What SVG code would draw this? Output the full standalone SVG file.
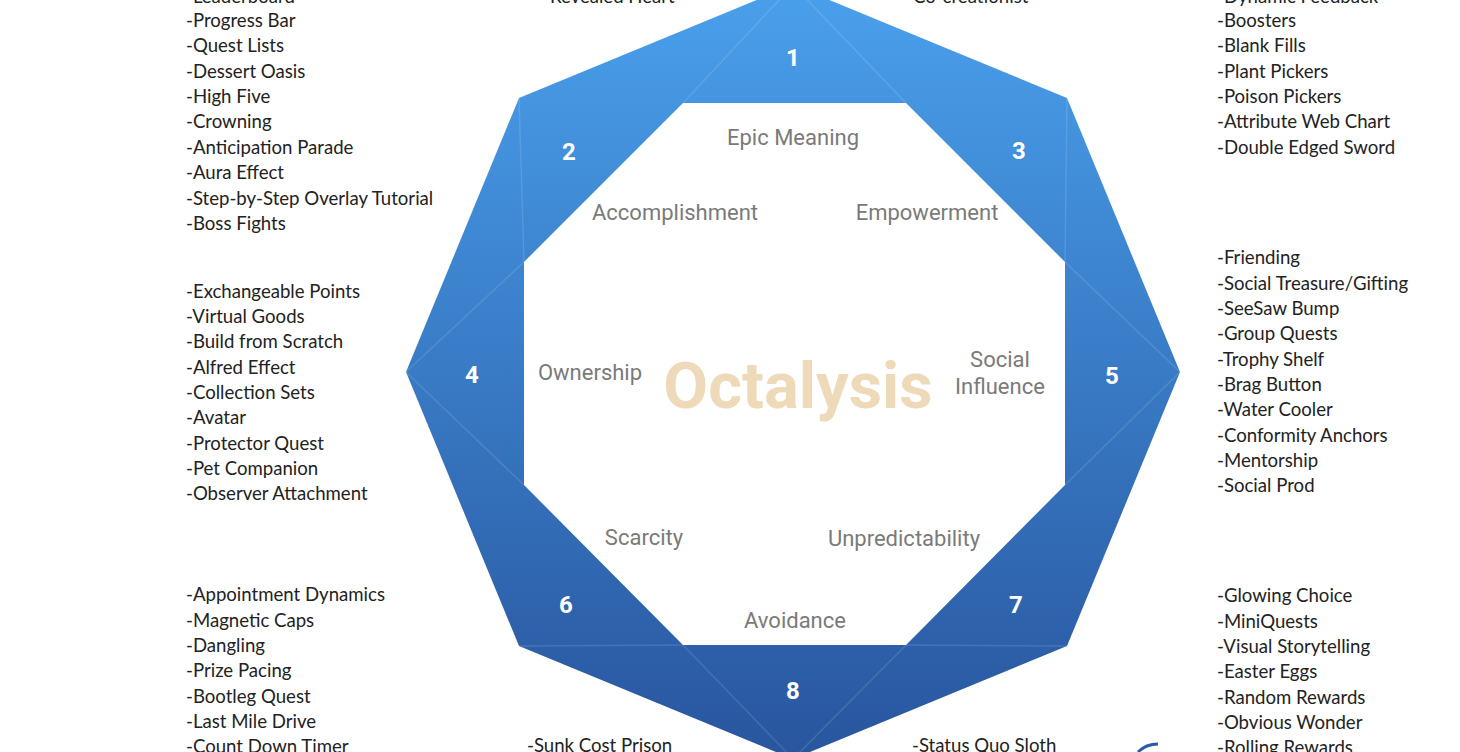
<svg xmlns="http://www.w3.org/2000/svg" width="1460" height="752" viewBox="0 0 1460 752">
<style>
.t{font-family:Lato,"Liberation Sans",sans-serif;font-size:18.6px;fill:#222}
.n{font-family:Roboto,"Liberation Sans",sans-serif;font-size:24px;font-weight:bold;fill:#fff;text-anchor:middle}
.c{font-family:Roboto,"Liberation Sans",sans-serif;font-size:22px;fill:#7a7a7a;text-anchor:middle}
</style>
<defs>
<linearGradient id="g" x1="0" y1="0" x2="0" y2="1">
<stop offset="0" stop-color="#4aa0ec"/><stop offset="1" stop-color="#28559e"/>
</linearGradient>
</defs>
<rect width="1460" height="752" fill="#fff"/>
<g id="octagon">
<polygon points="793,-15 1067,98 1180,372 1067,646 793,759 519,646 406,372 519,98" fill="url(#g)"/>
<g stroke="#ffffff" stroke-opacity="0.12" stroke-width="1.5">
<line x1="793" y1="-15" x2="683" y2="103"/><line x1="793" y1="-15" x2="906" y2="103"/>
<line x1="1067" y1="98" x2="1065" y2="262"/><line x1="519" y1="98" x2="524" y2="262"/>
<line x1="1180" y1="372" x2="1065" y2="262"/><line x1="1180" y1="372" x2="1065" y2="485"/>
<line x1="406" y1="372" x2="524" y2="262"/><line x1="406" y1="372" x2="524" y2="485"/>
<line x1="1067" y1="646" x2="906" y2="645"/><line x1="519" y1="646" x2="683" y2="645"/>
<line x1="793" y1="759" x2="683" y2="645"/><line x1="793" y1="759" x2="906" y2="645"/>
</g>
<polygon points="683,103 906,103 1065,262 1065,485 906,645 683,645 524,485 524,262" fill="#fff"/>
</g>
<g id="numbers">
<text class="n" x="793" y="66">1</text><text class="n" x="569" y="160">2</text>
<text class="n" x="1019" y="159">3</text><text class="n" x="472" y="383">4</text>
<text class="n" x="1112" y="384">5</text><text class="n" x="566" y="613">6</text>
<text class="n" x="1016" y="613">7</text><text class="n" x="793" y="699">8</text>
</g>
<g id="core-drives">
<text class="c" x="793" y="145">Epic Meaning</text>
<text class="c" x="675" y="220">Accomplishment</text>
<text class="c" x="927" y="220">Empowerment</text>
<text class="c" x="590" y="380">Ownership</text>
<text class="c" x="1000" y="367">Social</text><text class="c" x="1000" y="394">Influence</text>
<text class="c" x="644" y="545">Scarcity</text>
<text class="c" x="904" y="546">Unpredictability</text>
<text class="c" x="795" y="628">Avoidance</text>
<text x="798" y="408" text-anchor="middle" font-family="Roboto,'Liberation Sans',sans-serif" font-size="65" font-weight="bold" fill="#eed9b8">Octalysis</text>
</g>
<g id="list-2" class="t">
<text x="186" y="3">-Leaderboard</text><text x="186" y="27">-Progress Bar</text><text x="186" y="52">-Quest Lists</text>
<text x="186" y="78">-Dessert Oasis</text><text x="186" y="103">-High Five</text><text x="186" y="128">-Crowning</text>
<text x="186" y="154">-Anticipation Parade</text><text x="186" y="179">-Aura Effect</text>
<text x="186" y="205">-Step-by-Step Overlay Tutorial</text><text x="186" y="230">-Boss Fights</text>
</g>
<g id="list-4" class="t">
<text x="186" y="298">-Exchangeable Points</text><text x="186" y="323">-Virtual Goods</text><text x="186" y="348">-Build from Scratch</text>
<text x="186" y="374">-Alfred Effect</text><text x="186" y="399">-Collection Sets</text><text x="186" y="424">-Avatar</text>
<text x="186" y="450">-Protector Quest</text><text x="186" y="475">-Pet Companion</text><text x="186" y="500">-Observer Attachment</text>
</g>
<g id="list-6" class="t">
<text x="186" y="601">-Appointment Dynamics</text><text x="186" y="627">-Magnetic Caps</text><text x="186" y="652">-Dangling</text>
<text x="186" y="677">-Prize Pacing</text><text x="186" y="703">-Bootleg Quest</text><text x="186" y="728">-Last Mile Drive</text>
<text x="186" y="753">-Count Down Timer</text>
</g>
<g id="list-1" class="t"><text x="543" y="3">-Revealed Heart</text><text x="906" y="3">-Co-creationist</text></g>
<g id="list-8" class="t"><text x="527" y="752">-Sunk Cost Prison</text><text x="912" y="752">-Status Quo Sloth</text></g>
<g id="list-3" class="t">
<text x="1217" y="3">-Dynamic Feedback</text><text x="1217" y="27">-Boosters</text><text x="1217" y="52">-Blank Fills</text>
<text x="1217" y="78">-Plant Pickers</text><text x="1217" y="103">-Poison Pickers</text>
<text x="1217" y="128">-Attribute Web Chart</text><text x="1217" y="154">-Double Edged Sword</text>
</g>
<g id="list-5" class="t">
<text x="1217" y="264">-Friending</text><text x="1217" y="290">-Social Treasure/Gifting</text><text x="1217" y="315">-SeeSaw Bump</text>
<text x="1217" y="340">-Group Quests</text><text x="1217" y="366">-Trophy Shelf</text><text x="1217" y="391">-Brag Button</text>
<text x="1217" y="416">-Water Cooler</text><text x="1217" y="442">-Conformity Anchors</text><text x="1217" y="467">-Mentorship</text>
<text x="1217" y="492">-Social Prod</text>
</g>
<g id="list-7" class="t">
<text x="1217" y="602">-Glowing Choice</text><text x="1217" y="628">-MiniQuests</text><text x="1217" y="653">-Visual Storytelling</text>
<text x="1217" y="678">-Easter Eggs</text><text x="1217" y="704">-Random Rewards</text><text x="1217" y="729">-Obvious Wonder</text>
<text x="1217" y="754">-Rolling Rewards</text>
</g>
<path d="M1138,752 Q1146,744 1158,744" fill="none" stroke="#2a5aa8" stroke-width="3"/>
</svg>
